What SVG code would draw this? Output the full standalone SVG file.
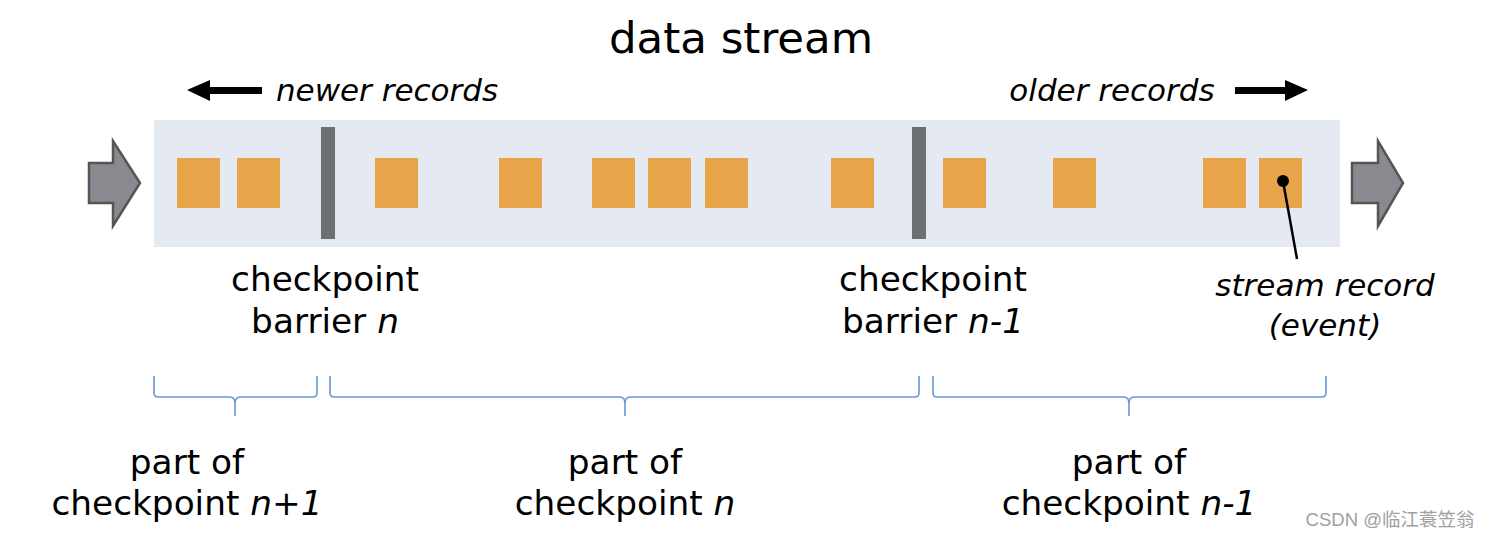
<svg xmlns="http://www.w3.org/2000/svg" width="1490" height="538" viewBox="0 0 1490 538">
<defs>
<style>
.t{font-family:"DejaVu Sans",Verdana,sans-serif;fill:#000;text-anchor:middle}
.i{font-style:italic}
.rec{fill:#e8a449}
.bar{fill:#6d6f73}
.big{fill:#898a8f;stroke:#555;stroke-width:2.5;stroke-linejoin:miter}
.brace{fill:none;stroke:#6a98d2;stroke-width:1.6}
</style>
</defs>
<rect x="0" y="0" width="1490" height="538" fill="#fff"/>
<text class="t" x="741" y="53" font-size="43.5">data stream</text>
<g id="newer">
<polygon points="187,90 210,80 210,87 262,87 262,94 210,94 210,101" fill="#000"/>
<text class="t i" x="387" y="101" font-size="31">newer records</text>
</g>
<g id="older">
<polygon points="1308,90 1285,80 1285,87 1235,87 1235,94 1285,94 1285,101" fill="#000"/>
<text class="t i" x="1112" y="101" font-size="31">older records</text>
</g>
<g id="stream">
<rect x="154" y="120" width="1186" height="127" fill="#e5e9f2"/>
</g>
<g id="in-arrow"><polygon class="big" points="89,163 113,163 113,141 140,183 113,226 113,203 89,203"/></g>
<g id="out-arrow"><polygon class="big" points="1352,163 1378,163 1378,141 1403,183 1378,226 1378,203 1352,203"/></g>
<g id="records">
<rect class="rec" x="177" y="158" width="43" height="50"/>
<rect class="rec" x="237" y="158" width="43" height="50"/>
<rect class="rec" x="375" y="158" width="43" height="50"/>
<rect class="rec" x="499" y="158" width="43" height="50"/>
<rect class="rec" x="592" y="158" width="43" height="50"/>
<rect class="rec" x="648" y="158" width="43" height="50"/>
<rect class="rec" x="705" y="158" width="43" height="50"/>
<rect class="rec" x="831" y="158" width="43" height="50"/>
<rect class="rec" x="943" y="158" width="43" height="50"/>
<rect class="rec" x="1053" y="158" width="43" height="50"/>
<rect class="rec" x="1203" y="158" width="43" height="50"/>
<rect class="rec" x="1259" y="158" width="43" height="50"/>
</g>
<g id="barrier-n"><rect class="bar" x="321" y="127" width="14" height="112"/>
<text class="t" x="325" y="291" font-size="34.3">checkpoint</text>
<text class="t" x="325" y="333" font-size="34.3">barrier <tspan class="i">n</tspan></text>
</g>
<g id="barrier-n-1"><rect class="bar" x="912" y="127" width="14" height="112"/>
<text class="t" x="933" y="291" font-size="34.3">checkpoint</text>
<text class="t" x="933" y="333" font-size="34.3">barrier <tspan class="i">n-1</tspan></text>
</g>
<g id="connectors">
<circle cx="1283" cy="181" r="6" fill="#000"/>
<line x1="1283" y1="181" x2="1297" y2="259" stroke="#000" stroke-width="2.5"/>
</g>
<g id="record-label">
<text class="t i" x="1325" y="296" font-size="31">stream record</text>
<text class="t i" x="1325" y="336" font-size="31">(event)</text>
</g>
<g id="brace1"><path class="brace" d="M154,376 V393 Q154,397 158,397 H230 Q235,397 235,404 V416 M235,404 Q235,397 240,397 H313 Q317,397 317,393 V376"/>
<text class="t" x="187" y="474" font-size="34.3">part of</text>
<text class="t" x="187" y="515" font-size="34.3">checkpoint <tspan class="i">n+1</tspan></text>
</g>
<g id="brace2"><path class="brace" d="M330,376 V393 Q330,397 334,397 H620 Q625,397 625,404 V416 M625,404 Q625,397 630,397 H915 Q919,397 919,393 V376"/>
<text class="t" x="625" y="474" font-size="34.3">part of</text>
<text class="t" x="625" y="515" font-size="34.3">checkpoint <tspan class="i">n</tspan></text>
</g>
<g id="brace3"><path class="brace" d="M933,376 V393 Q933,397 937,397 H1124 Q1129,397 1129,404 V416 M1129,404 Q1129,397 1134,397 H1322 Q1326,397 1326,393 V376"/>
<text class="t" x="1129" y="474" font-size="34.3">part of</text>
<text class="t" x="1129" y="515" font-size="34.3">checkpoint <tspan class="i">n-1</tspan></text>
</g>
<text x="1390" y="526" font-size="18.5" fill="#a0a0a0" text-anchor="middle" font-family="'Liberation Sans','Noto Sans CJK SC',sans-serif">CSDN @临江蓑笠翁</text>
</svg>
